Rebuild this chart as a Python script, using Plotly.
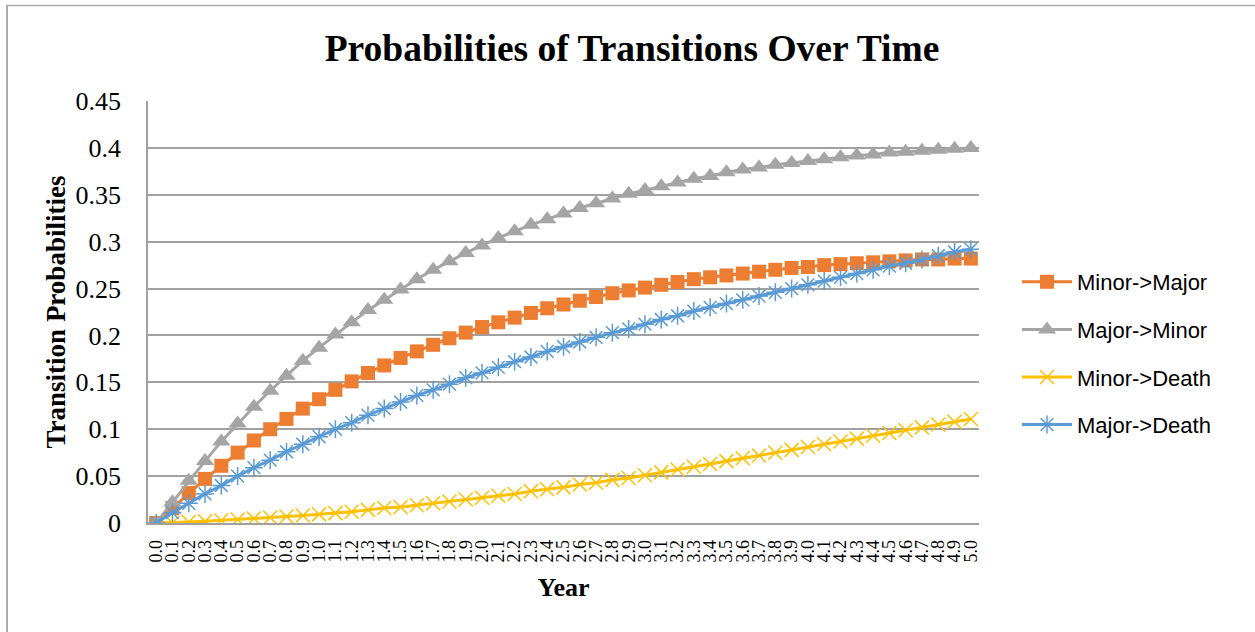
import plotly.graph_objects as go

# Time points (years)
years = ["0.0", "0.1", "0.2", "0.3", "0.4", "0.5", "0.6", "0.7", "0.8", "0.9",
         "1.0", "1.1", "1.2", "1.3", "1.4", "1.5", "1.6", "1.7", "1.8", "1.9",
         "2.0", "2.1", "2.2", "2.3", "2.4", "2.5", "2.6", "2.7", "2.8", "2.9",
         "3.0", "3.1", "3.2", "3.3", "3.4", "3.5", "3.6", "3.7", "3.8", "3.9",
         "4.0", "4.1", "4.2", "4.3", "4.4", "4.5", "4.6", "4.7", "4.8", "4.9",
         "5.0"]

minor_to_major = [0.000, 0.016, 0.032, 0.047, 0.061, 0.075, 0.088, 0.100, 0.111, 0.122,
                  0.132, 0.142, 0.151, 0.160, 0.168, 0.176, 0.183, 0.190, 0.197, 0.203,
                  0.209, 0.214, 0.219, 0.224, 0.229, 0.233, 0.237, 0.241, 0.245, 0.248,
                  0.251, 0.254, 0.257, 0.260, 0.262, 0.264, 0.266, 0.268, 0.270, 0.272,
                  0.273, 0.275, 0.276, 0.277, 0.278, 0.279, 0.280, 0.281, 0.281, 0.282,
                  0.282]

major_to_minor = [0.000, 0.022, 0.045, 0.066, 0.087, 0.106, 0.124, 0.141, 0.157, 0.173,
                  0.187, 0.201, 0.214, 0.227, 0.238, 0.249, 0.260, 0.270, 0.279, 0.288,
                  0.296, 0.304, 0.311, 0.318, 0.324, 0.330, 0.336, 0.341, 0.346, 0.351,
                  0.355, 0.359, 0.363, 0.367, 0.370, 0.374, 0.377, 0.379, 0.382, 0.384,
                  0.386, 0.388, 0.390, 0.392, 0.393, 0.395, 0.396, 0.397, 0.398, 0.399,
                  0.400]

minor_to_death = [0.000, 0.0003, 0.001, 0.0018, 0.0027, 0.0037, 0.0048, 0.0058, 0.0069, 0.0080,
                  0.0092, 0.0105, 0.012, 0.014, 0.016, 0.017, 0.019, 0.021, 0.023, 0.025,
                  0.027, 0.029, 0.031, 0.034, 0.036, 0.038, 0.041, 0.043, 0.046, 0.048,
                  0.051, 0.054, 0.057, 0.060, 0.063, 0.066, 0.069, 0.072, 0.075, 0.078,
                  0.081, 0.084, 0.087, 0.090, 0.093, 0.096, 0.099, 0.102, 0.105, 0.108,
                  0.111]

major_to_death = [0.000, 0.011, 0.021, 0.031, 0.040, 0.050, 0.059, 0.067, 0.076, 0.084,
                  0.092, 0.100, 0.107, 0.115, 0.122, 0.129, 0.136, 0.142, 0.148, 0.155,
                  0.160, 0.166, 0.172, 0.177, 0.183, 0.188, 0.193, 0.198, 0.203, 0.207,
                  0.212, 0.217, 0.221, 0.226, 0.230, 0.234, 0.238, 0.242, 0.246, 0.250,
                  0.254, 0.258, 0.262, 0.266, 0.270, 0.274, 0.277, 0.281, 0.285, 0.289,
                  0.292]

series = [
    ("Minor->Major", minor_to_major, "#ED7D31",
     dict(symbol="square", size=14, color="#ED7D31")),
    ("Major->Minor", major_to_minor, "#A5A5A5",
     dict(symbol="triangle-up", size=16, color="#A5A5A5")),
    ("Minor->Death", minor_to_death, "#FFC000",
     dict(symbol="x-thin-open", size=14, color="#FFC000",
          line=dict(color="#FFC000", width=1.5))),
    ("Major->Death", major_to_death, "#5B9BD5",
     dict(symbol="asterisk-open", size=15, color="#5B9BD5",
          line=dict(color="#5B9BD5", width=1.5))),
]

fig = go.Figure()
for name, vals, col, mk in series:
    fig.add_trace(go.Scatter(
        x=years, y=vals, name=name, mode="lines+markers",
        line=dict(color=col, width=3),
        marker=mk, legendgroup=name,
    ))

W, H = 1255, 632
L, R, T, B = 148, 979, 101, 523

def px_x(p):
    return (p - L) / (R - L)

def px_y(p):
    return (B - p) / (B - T)

serif = "Liberation Serif, Times New Roman, serif"

fig.update_layout(
    width=W, height=H,
    margin=dict(l=L, r=W - R, t=T, b=H - B, autoexpand=False),
    paper_bgcolor="white", plot_bgcolor="white",
    title=dict(text="<b>Probabilities of Transitions Over Time</b>",
               font=dict(family=serif, size=37.5, color="black"),
               x=632 / W, xref="container", xanchor="center",
               y=1 - 48 / H, yanchor="middle"),
    legend=dict(x=px_x(1017), y=px_y(261), xanchor="left", yanchor="top",
                font=dict(family="Liberation Sans, Arial, sans-serif", size=22,
                          color="black"),
                tracegroupgap=16, itemwidth=50, bgcolor="rgba(0,0,0,0)"),
    showlegend=True,
    shapes=[
        dict(type="line", xref="paper", yref="paper",
             x0=px_x(7), x1=px_x(7), y0=px_y(5), y1=px_y(640),
             line=dict(color="#ABABAB", width=2)),
        dict(type="line", xref="paper", yref="paper",
             x0=px_x(6), x1=px_x(1260), y0=px_y(5.5), y1=px_y(5.5),
             line=dict(color="#ABABAB", width=1.5)),
    ],
)

fig.update_xaxes(
    type="category", tickmode="array", tickvals=years, ticktext=years,
    tickangle=-90, tickfont=dict(family=serif, size=18, color="black"),
    showgrid=False, showline=True, linecolor="#A0A0A0", linewidth=1.5,
    ticks="", ticklabelstandoff=8,
    title=dict(text="<b>Year</b>", font=dict(family=serif, size=26, color="black"),
               standoff=16),
    range=[-0.5, 50.5],
)

fig.update_yaxes(
    range=[0, 0.45], dtick=0.05, tick0=0,
    tickfont=dict(family=serif, size=26, color="black"),
    showgrid=True, gridcolor="#A0A0A0", gridwidth=1.5,
    showline=True, linecolor="#A0A0A0", linewidth=1.5,
    zeroline=False, ticks="", ticklabelstandoff=20,
    title=dict(text="<b>Transition Probabilities</b>",
               font=dict(family=serif, size=27, color="black"), standoff=2),
)

fig.write_html("out.html")
